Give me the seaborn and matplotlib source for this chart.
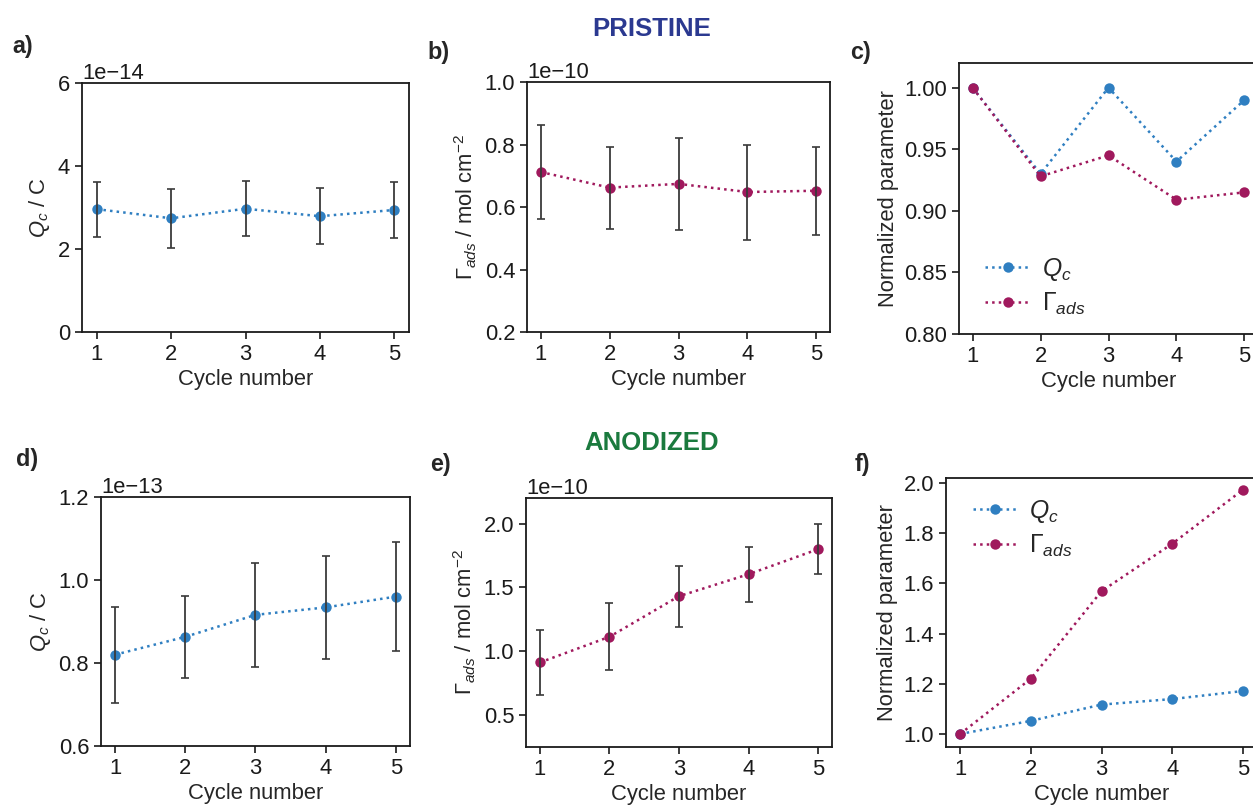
import numpy as np
import pandas as pd
import matplotlib
matplotlib.use("Agg")
import matplotlib.pyplot as plt
import seaborn as sns

# ---------------- data ----------------
cycles = [1, 2, 3, 4, 5]

# Pristine
pri_qc = [2.96e-14, 2.74e-14, 2.97e-14, 2.79e-14, 2.94e-14]
pri_qc_err = [0.66e-14, 0.71e-14, 0.66e-14, 0.68e-14, 0.68e-14]
pri_gam = [0.712e-10, 0.662e-10, 0.674e-10, 0.648e-10, 0.652e-10]
pri_gam_err = [0.151e-10, 0.131e-10, 0.147e-10, 0.152e-10, 0.141e-10]

# Anodized
ano_qc = [0.820e-13, 0.863e-13, 0.916e-13, 0.934e-13, 0.960e-13]
ano_qc_err = [0.116e-13, 0.098e-13, 0.126e-13, 0.125e-13, 0.131e-13]
ano_gam = [0.912e-10, 1.113e-10, 1.431e-10, 1.603e-10, 1.799e-10]
ano_gam_err = [0.254e-10, 0.263e-10, 0.239e-10, 0.214e-10, 0.198e-10]

# Normalized
pri_qc_norm = [1.00, 0.93, 1.00, 0.94, 0.99]
pri_gam_norm = [1.00, 0.928, 0.945, 0.909, 0.915]
ano_qc_norm = [1.00, 1.052, 1.117, 1.139, 1.171]
ano_gam_norm = [1.00, 1.220, 1.569, 1.758, 1.973]

# ---------------- style ----------------
sns.set_theme(style="ticks")
plt.rcParams["font.family"] = ["Liberation Sans", "DejaVu Sans"]
plt.rcParams["mathtext.fontset"] = "custom"
plt.rcParams["mathtext.rm"] = "Liberation Sans"
plt.rcParams["mathtext.it"] = "Liberation Sans:italic"
plt.rcParams["mathtext.bf"] = "Liberation Sans:bold"
plt.rcParams["axes.edgecolor"] = "#1a1a1a"
plt.rcParams["xtick.color"] = "#1a1a1a"
plt.rcParams["ytick.color"] = "#1a1a1a"
plt.rcParams["axes.linewidth"] = 1.3

FS = 15.8
BLUE = "#2f7fc1"
MAG = "#a0195d"
ERRC = "#3a3a3a"

fig = plt.figure(figsize=(12.53, 8.07), dpi=100)

W, H = 1253, 807
def box(l, r, t, b):
    return [l / W, 1 - b / H, (r - l) / W, (b - t) / H]

ax_a = fig.add_axes(box(82, 409, 83, 332))
ax_b = fig.add_axes(box(527, 830, 82, 332))
ax_c = fig.add_axes(box(959, 1258, 63, 334))
ax_d = fig.add_axes(box(101, 410, 497, 746))
ax_e = fig.add_axes(box(526, 832, 498, 747))
ax_f = fig.add_axes(box(946, 1257, 478, 747))


def style_ax(ax):
    for s in ax.spines.values():
        s.set_visible(True)
        s.set_linewidth(1.3)
    ax.tick_params(labelsize=FS, length=5, width=1.2)
    ax.yaxis.get_offset_text().set_fontsize(FS)
    ax.set_xticks(cycles)
    ax.set_xlim(0.8, 5.2)
    ax.set_xlabel("Cycle number", fontsize=FS, labelpad=3)


def err_panel(ax, y, err, color, ylabel, ylim, yticks):
    df = pd.DataFrame({"cycle": cycles, "val": y})
    sns.lineplot(data=df, x="cycle", y="val", ax=ax, color=color,
                 linestyle=":", linewidth=1.8, marker="o", markersize=7.5,
                 markeredgewidth=0, zorder=2)
    ax.errorbar(cycles, y, yerr=err, fmt="none", ecolor=ERRC, elinewidth=1.3,
                capsize=3, capthick=1.2, zorder=3)
    ax.set_ylim(*ylim)
    ax.set_yticks(yticks)
    ax.set_ylabel(ylabel, fontsize=FS)
    style_ax(ax)


def norm_panel(ax, qn, gn, ylim, yticks, loc, anchor):
    df = pd.DataFrame({"cycle": cycles * 2,
                       "val": list(qn) + list(gn),
                       "param": [r"$Q_c$"] * 5 + [r"$\Gamma_{ads}$"] * 5})
    sns.lineplot(data=df, x="cycle", y="val", hue="param", ax=ax,
                 palette=[BLUE, MAG], linestyle=":", linewidth=1.8,
                 marker="o", markersize=7.5, markeredgewidth=0)
    ax.set_ylim(*ylim)
    ax.set_yticks(yticks)
    ax.set_ylabel("Normalized parameter", fontsize=FS)
    ax.legend(loc=loc, bbox_to_anchor=anchor, frameon=False, fontsize=FS + 2,
              title=None, handlelength=1.8, handletextpad=0.5,
              labelspacing=0.3, borderaxespad=0.3)
    style_ax(ax)


err_panel(ax_a, pri_qc, pri_qc_err, BLUE, r"$Q_c$ / C", (0, 6e-14),
          [0, 2e-14, 4e-14, 6e-14])
err_panel(ax_b, pri_gam, pri_gam_err, MAG, r"$\Gamma_{ads}$ / mol cm$^{-2}$",
          (0.2e-10, 1.0e-10), [0.2e-10, 0.4e-10, 0.6e-10, 0.8e-10, 1.0e-10])
norm_panel(ax_c, pri_qc_norm, pri_gam_norm, (0.80, 1.02),
           [0.80, 0.85, 0.90, 0.95, 1.00], "lower left", (0.03, 0.0))
ax_c.yaxis.set_major_formatter(matplotlib.ticker.FormatStrFormatter("%.2f"))

err_panel(ax_d, ano_qc, ano_qc_err, BLUE, r"$Q_c$ / C", (0.6e-13, 1.2e-13),
          [0.6e-13, 0.8e-13, 1.0e-13, 1.2e-13])
err_panel(ax_e, ano_gam, ano_gam_err, MAG, r"$\Gamma_{ads}$ / mol cm$^{-2}$",
          (0.25e-10, 2.2e-10), [0.5e-10, 1.0e-10, 1.5e-10, 2.0e-10])
norm_panel(ax_f, ano_qc_norm, ano_gam_norm, (0.948, 2.02),
           [1.0, 1.2, 1.4, 1.6, 1.8, 2.0], "upper left", (0.03, 0.99))

# panel letters
for lab, x, y in [("a)", 12, 46), ("b)", 427, 52), ("c)", 850, 52),
                  ("d)", 16, 459), ("e)", 430, 465), ("f)", 855, 465)]:
    fig.text(x / W, 1 - y / H, lab, fontsize=FS + 1, fontweight="bold",
             ha="left", va="center")

fig.text(652 / W, 1 - 29 / H, "PRISTINE", fontsize=18.5, fontweight="bold",
         color="#2b3990", ha="center", va="center")
fig.text(652 / W, 1 - 443 / H, "ANODIZED", fontsize=18.5, fontweight="bold",
         color="#1b7a3e", ha="center", va="center")

fig.savefig("out.png", dpi=100)
